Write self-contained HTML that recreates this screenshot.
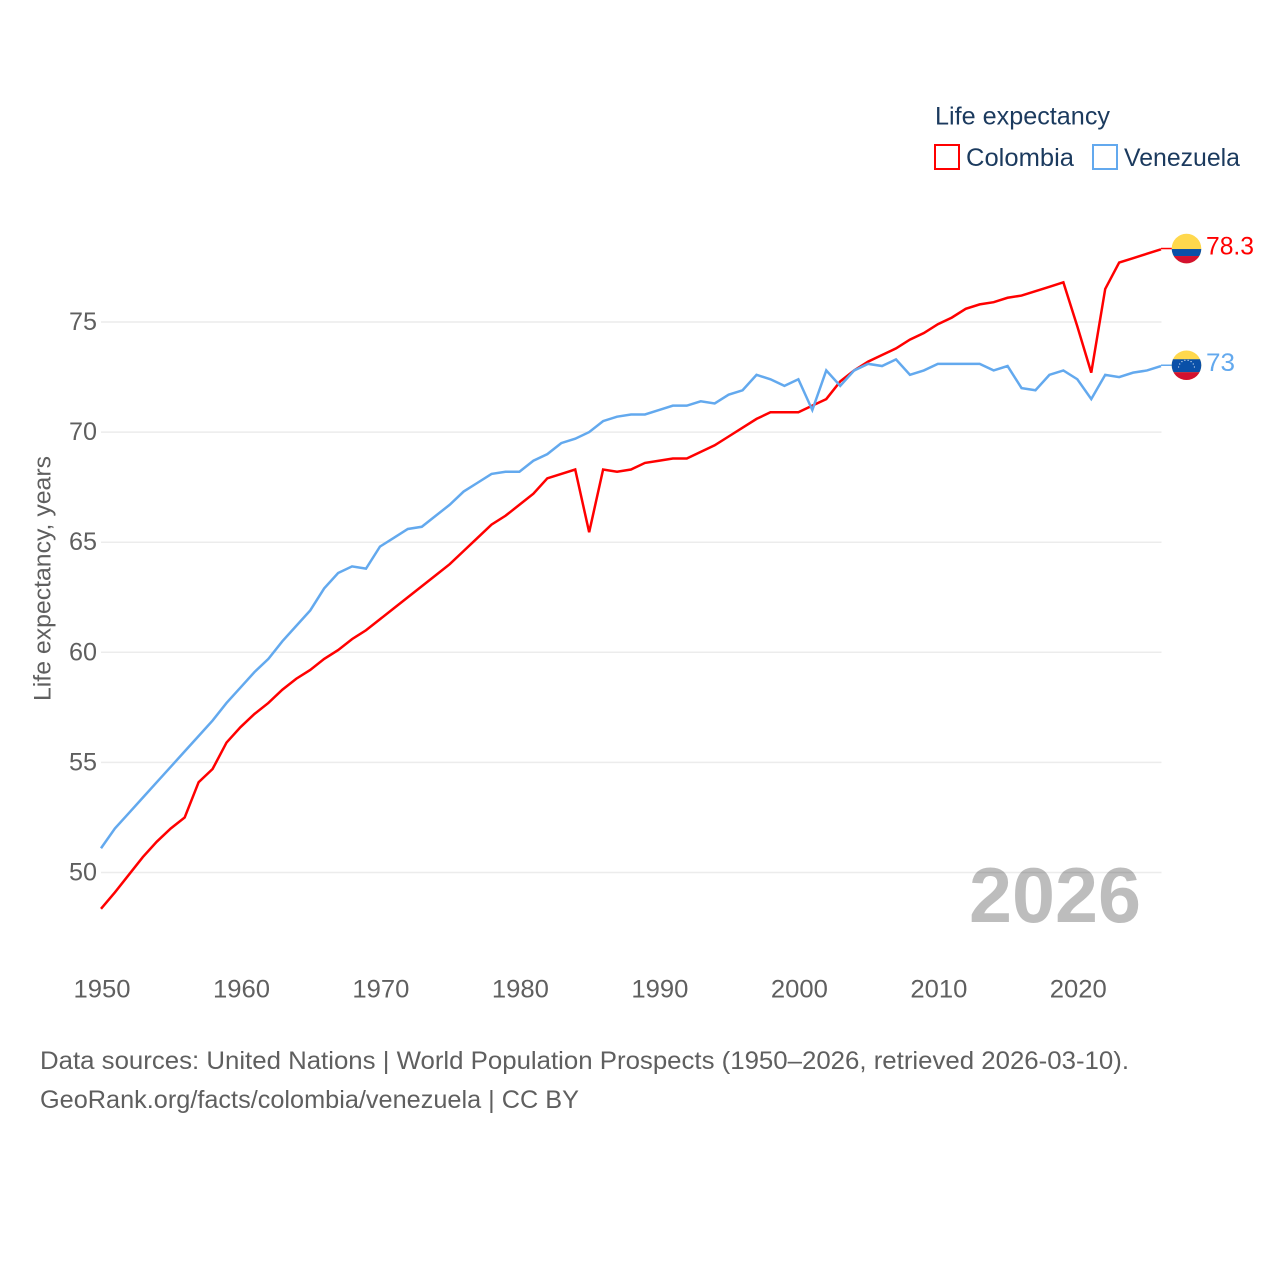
<!DOCTYPE html>
<html lang="en">
<head>
<meta charset="utf-8">
<title>Life expectancy: Colombia and Venezuela</title>
<style>
  html, body { margin: 0; padding: 0; background: #fff; }
  svg { display: block; font-family: "Liberation Sans", sans-serif; }
</style>
</head>
<body>
<svg id="chart" xmlns="http://www.w3.org/2000/svg" width="1280" height="1280" viewBox="0 0 1280 1280">
  <rect x="0" y="0" width="1280" height="1280" fill="#ffffff"></rect>
  <g id="grid"></g>
  <g id="y-ticks"></g>
  <g id="x-ticks"></g>
  <text transform="translate(50.5,701) rotate(-90)" font-size="24" fill="#5f5f5f" textLength="245" lengthAdjust="spacingAndGlyphs">Life expectancy, years</text>
  <text x="969" y="922" font-size="78" font-weight="700" fill="#000000" fill-opacity="0.26" textLength="172" lengthAdjust="spacingAndGlyphs">2026</text>
  <g id="series"></g>
  <g id="flags"></g>
  <g>
    <text x="935" y="124.5" font-size="25" fill="#1b3a5e" textLength="175" lengthAdjust="spacingAndGlyphs">Life expectancy</text>
    <rect x="935" y="145" width="24" height="24" fill="#ffffff" stroke="#ff0000" stroke-width="2"></rect>
    <text x="966" y="166" font-size="25" fill="#1b3a5e" textLength="108" lengthAdjust="spacingAndGlyphs">Colombia</text>
    <rect x="1093" y="145" width="24" height="24" fill="#ffffff" stroke="#63a9ee" stroke-width="2"></rect>
    <text x="1124" y="166" font-size="25" fill="#1b3a5e" textLength="116" lengthAdjust="spacingAndGlyphs">Venezuela</text>
  </g>
  <text x="40" y="1069" font-size="25" fill="#5f5f5f" textLength="1089" lengthAdjust="spacingAndGlyphs">Data sources: United Nations | World Population Prospects (1950–2026, retrieved 2026-03-10).</text>
  <text x="40" y="1108" font-size="25" fill="#5f5f5f" textLength="539" lengthAdjust="spacingAndGlyphs">GeoRank.org/facts/colombia/venezuela | CC BY</text>
</svg>
<script>
const years = [1950,1951,1952,1953,1954,1955,1956,1957,1958,1959,1960,1961,1962,1963,1964,1965,1966,1967,1968,1969,1970,1971,1972,1973,1974,1975,1976,1977,1978,1979,1980,1981,1982,1983,1984,1985,1986,1987,1988,1989,1990,1991,1992,1993,1994,1995,1996,1997,1998,1999,2000,2001,2002,2003,2004,2005,2006,2007,2008,2009,2010,2011,2012,2013,2014,2015,2016,2017,2018,2019,2020,2021,2022,2023,2024,2025,2026];
const colombia = [48.35,49.1,49.9,50.7,51.4,52.0,52.5,54.1,54.7,55.9,56.6,57.2,57.7,58.3,58.8,59.2,59.7,60.1,60.6,61.0,61.5,62.0,62.5,63.0,63.5,64.0,64.6,65.2,65.8,66.2,66.7,67.2,67.9,68.1,68.3,65.45,68.3,68.2,68.3,68.6,68.7,68.8,68.8,69.1,69.4,69.8,70.2,70.6,70.9,70.9,70.9,71.2,71.5,72.3,72.8,73.2,73.5,73.8,74.2,74.5,74.9,75.2,75.6,75.8,75.9,76.1,76.2,76.4,76.6,76.8,74.8,72.7,76.5,77.7,77.9,78.1,78.3];
const venezuela = [51.1,52.0,52.7,53.4,54.1,54.8,55.5,56.2,56.9,57.7,58.4,59.1,59.7,60.5,61.2,61.9,62.9,63.6,63.9,63.8,64.8,65.2,65.6,65.7,66.2,66.7,67.3,67.7,68.1,68.2,68.2,68.7,69.0,69.5,69.7,70.0,70.5,70.7,70.8,70.8,71.0,71.2,71.2,71.4,71.3,71.7,71.9,72.6,72.4,72.1,72.4,71.0,72.8,72.1,72.8,73.1,73.0,73.3,72.6,72.8,73.1,73.1,73.1,73.1,72.8,73.0,72.0,71.9,72.6,72.8,72.4,71.5,72.6,72.5,72.7,72.8,73.0];
const yTickValues = [50,55,60,65,70,75];
const xTickValues = [1950,1960,1970,1980,1990,2000,2010,2020];

const NS = 'http://www.w3.org/2000/svg';
const RED = '#ff0000';
const BLUE = '#63a9ee';
const TICK_COLOR = '#5f5f5f';

function xScale(year) { return 101 + (year - 1950) * (1060 / 76); }
function yScale(value) { return 872.5 - (value - 50) * 22.02; }

function make(tag, attrs, parent) {
  const el = document.createElementNS(NS, tag);
  for (const key in attrs) el.setAttribute(key, attrs[key]);
  parent.appendChild(el);
  return el;
}

const grid = document.getElementById('grid');
const yTicks = document.getElementById('y-ticks');
yTickValues.forEach(function (v) {
  const y = yScale(v);
  const line = make('line', { x1: 101, x2: 1161.5, y1: y, y2: y, stroke: '#ececec', 'stroke-width': 1.5 }, grid);
  
  
  const label = make('text', { x: 97, y: y + 8, 'text-anchor': 'end', 'font-size': 25, fill: TICK_COLOR, textLength: 28, lengthAdjust: 'spacingAndGlyphs' }, yTicks);
  label.textContent = String(v);
  
  
});

const xTicks = document.getElementById('x-ticks');
xTickValues.forEach(function (yr) {
  const label = make('text', { x: xScale(yr) + 1, y: 997.5, 'text-anchor': 'middle', 'font-size': 25, fill: TICK_COLOR, textLength: 57, lengthAdjust: 'spacingAndGlyphs' }, xTicks);
  label.textContent = String(yr);
  
  
});

function linePath(values) {
  return values.map(function (v, i) {
    return (i === 0 ? 'M' : 'L') + xScale(years[i]).toFixed(2) + ' ' + yScale(v).toFixed(2);
  }).join(' ');
}

const seriesGroup = document.getElementById('series');
function drawSeries(values, color, name) {
  const path = make('path', { d: linePath(values), fill: 'none', stroke: color, 'stroke-width': 2.5, 'stroke-linejoin': 'miter' }, seriesGroup);
  
  
  const lastY = yScale(values[values.length - 1]);
  const connector = make('line', { x1: 1161, x2: 1172, y1: lastY - 0.8, y2: lastY - 0.8, stroke: color, 'stroke-width': 1.5 }, seriesGroup);
  
  
}
drawSeries(colombia, RED, 'colombia');
drawSeries(venezuela, BLUE, 'venezuela');

const flags = document.getElementById('flags');
function drawFlag(values, color, name, blueBand, withStars) {
  const last = values[values.length - 1];
  const cy = yScale(last) - 0.8;
  const g = make('g', { transform: 'translate(1186.5,' + cy.toFixed(2) + ')' }, flags);
  
  
  const clipId = 'clip-' + name;
  const clip = make('clipPath', { id: clipId }, g);
  make('circle', { cx: 0, cy: 0, r: 14.8 }, clip);
  const body = make('g', { 'clip-path': 'url(#' + clipId + ')' }, g);
  make('rect', { x: -16, y: -16, width: 32, height: 32, fill: '#ffd84d' }, body);
  make('rect', { x: -16, y: blueBand[0], width: 32, height: blueBand[1] - blueBand[0], fill: '#0a50a8' }, body);
  make('rect', { x: -16, y: blueBand[1], width: 32, height: 16, fill: '#d3112f' }, body);
  if (withStars) {
    for (let i = 0; i < 8; i++) {
      const angle = Math.PI * (1.05 + i * 0.9 / 7);
      make('circle', { cx: (Math.cos(angle) * 8).toFixed(2), cy: (Math.sin(angle) * 8 + 3).toFixed(2), r: 0.6, fill: '#ffffff', 'fill-opacity': 0.85 }, body);
    }
  }
  const label = make('text', { x: 1206, 'font-size': 25, fill: color, textLength: name === 'colombia' ? 48 : 29, lengthAdjust: 'spacingAndGlyphs' }, flags);
  label.setAttribute('y', (cy + 6).toFixed(2));
  label.textContent = String(last).replace(/\.0$/, '');
  
  
}
drawFlag(colombia, RED, 'colombia', [0.5, 7.5], false);
drawFlag(venezuela, BLUE, 'venezuela', [-6, 7], true);
</script>
</body>
</html>
